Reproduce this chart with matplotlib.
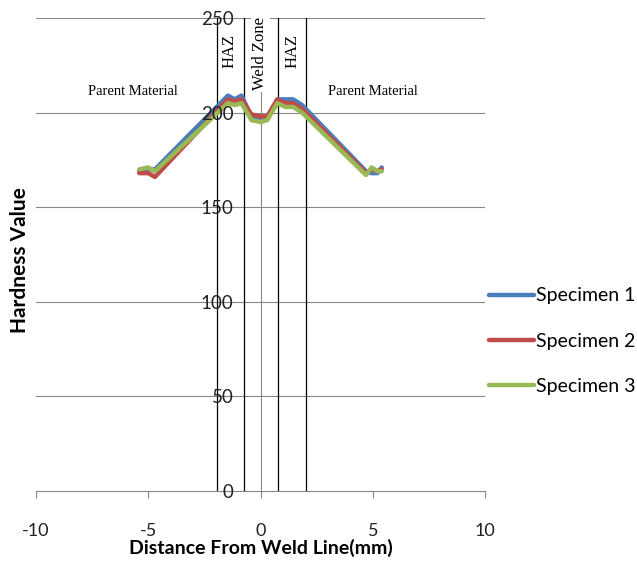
import matplotlib.pyplot as plt

# hardness profile across the weld
distance = [-5.4, -5.0, -4.7, -1.45, -1.15, -0.85, -0.4, 0.0, 0.3, 0.75, 1.1, 1.45, 1.85, 4.7, 4.95, 5.2, 5.4]
specimen1 = [169, 170, 170, 209, 207, 209, 198, 197, 197, 207, 207, 207, 204, 169, 168, 168, 171]
specimen2 = [168, 168, 166, 207, 206, 207, 199, 198, 198, 207, 205, 205, 202, 168, 170, 169, 170]
specimen3 = [170, 171, 169, 205, 204, 205, 196, 195, 196, 205, 203, 203, 200, 167, 171, 169, 169]
series_names = ['Specimen 1', 'Specimen 2', 'Specimen 3']

# zone boundaries (mm)
boundaries = [-1.93, -0.75, 0.78, 2.03]

xticks = [-10, -5, 0, 5, 10]
yticks = [0, 50, 100, 150, 200, 250]

colors = ['#4A7EBB', '#BE4B48', '#98B954']
axis_gray = '#868686'
sans = ['Lato', 'DejaVu Sans']
serif = ['Liberation Serif', 'DejaVu Serif']

fig = plt.figure(figsize=(6.37, 5.62), dpi=100)
ax = fig.add_axes([36 / 637, 1 - 491 / 562, 449 / 637, 473 / 562])

ax.set_xlim(-10, 10)
ax.set_ylim(0, 250)

for y in yticks[1:]:
    ax.axhline(y, color=axis_gray, lw=0.8, zorder=1)

for b in boundaries:
    ax.plot([b, b], [0, 250], color='black', lw=0.9, zorder=1.5)

for vals, name, c in zip([specimen1, specimen2, specimen3], series_names, colors):
    ax.plot(distance, vals, color=c, lw=3.2, label=name, zorder=2.2,
            solid_joinstyle='round', solid_capstyle='round')

# tick labels drawn over the curves, like the original
ax.set_axisbelow(False)

ax.spines['left'].set_position(('data', 0))
ax.spines['left'].set_color(axis_gray)
ax.spines['left'].set_linewidth(0.8)
ax.spines['left'].set_zorder(1.2)
ax.spines['bottom'].set_color(axis_gray)
ax.spines['bottom'].set_linewidth(0.8)
ax.spines['top'].set_visible(False)
ax.spines['right'].set_visible(False)

ax.set_xticks(xticks)
ax.set_yticks(yticks)
ax.set_xticklabels([str(v) for v in xticks], family=sans, fontsize=13)
ax.set_yticklabels([str(v) for v in yticks], family=sans, fontsize=13.5)
ax.tick_params(axis='x', direction='out', length=5, color=axis_gray, pad=18, labelcolor='#222222')
ax.tick_params(axis='y', direction='out', length=0, pad=19.5, labelcolor='#222222')

ax.set_xlabel('Distance From Weld Line(mm)', family=sans, fontsize=14,
              fontweight='bold', labelpad=0)
fig.text(20 / 637, 1 - 260 / 562, 'Hardness Value', family=sans, fontsize=15,
         fontweight='bold', rotation=90, ha='center', va='center')

# zone labels
ax.text(-1.36, 232.5, 'HAZ', family=serif, fontsize=12, rotation=90,
        ha='center', va='center', zorder=4)
ax.text(0.0, 231, 'Weld Zone', family=serif, fontsize=12, rotation=90,
        ha='center', va='center', zorder=4,
        bbox=dict(facecolor='white', edgecolor='none', pad=1))
ax.text(1.42, 232.5, 'HAZ', family=serif, fontsize=12, rotation=90,
        ha='center', va='center', zorder=4)
ax.text(-5.7, 211, 'Parent Material', family=serif, fontsize=10.5,
        ha='center', va='center')
ax.text(5.0, 211, 'Parent Material', family=serif, fontsize=10.5,
        ha='center', va='center')

leg = fig.legend(loc='center left', bbox_to_anchor=(489 / 637, 1 - 341 / 562),
                 frameon=False, prop={'family': sans, 'size': 14},
                 handlelength=2.3, handletextpad=0.1, labelspacing=1.45,
                 borderpad=0, borderaxespad=0)
for line in leg.get_lines():
    line.set_linewidth(3.2)

fig.savefig('out.png', dpi=100)
